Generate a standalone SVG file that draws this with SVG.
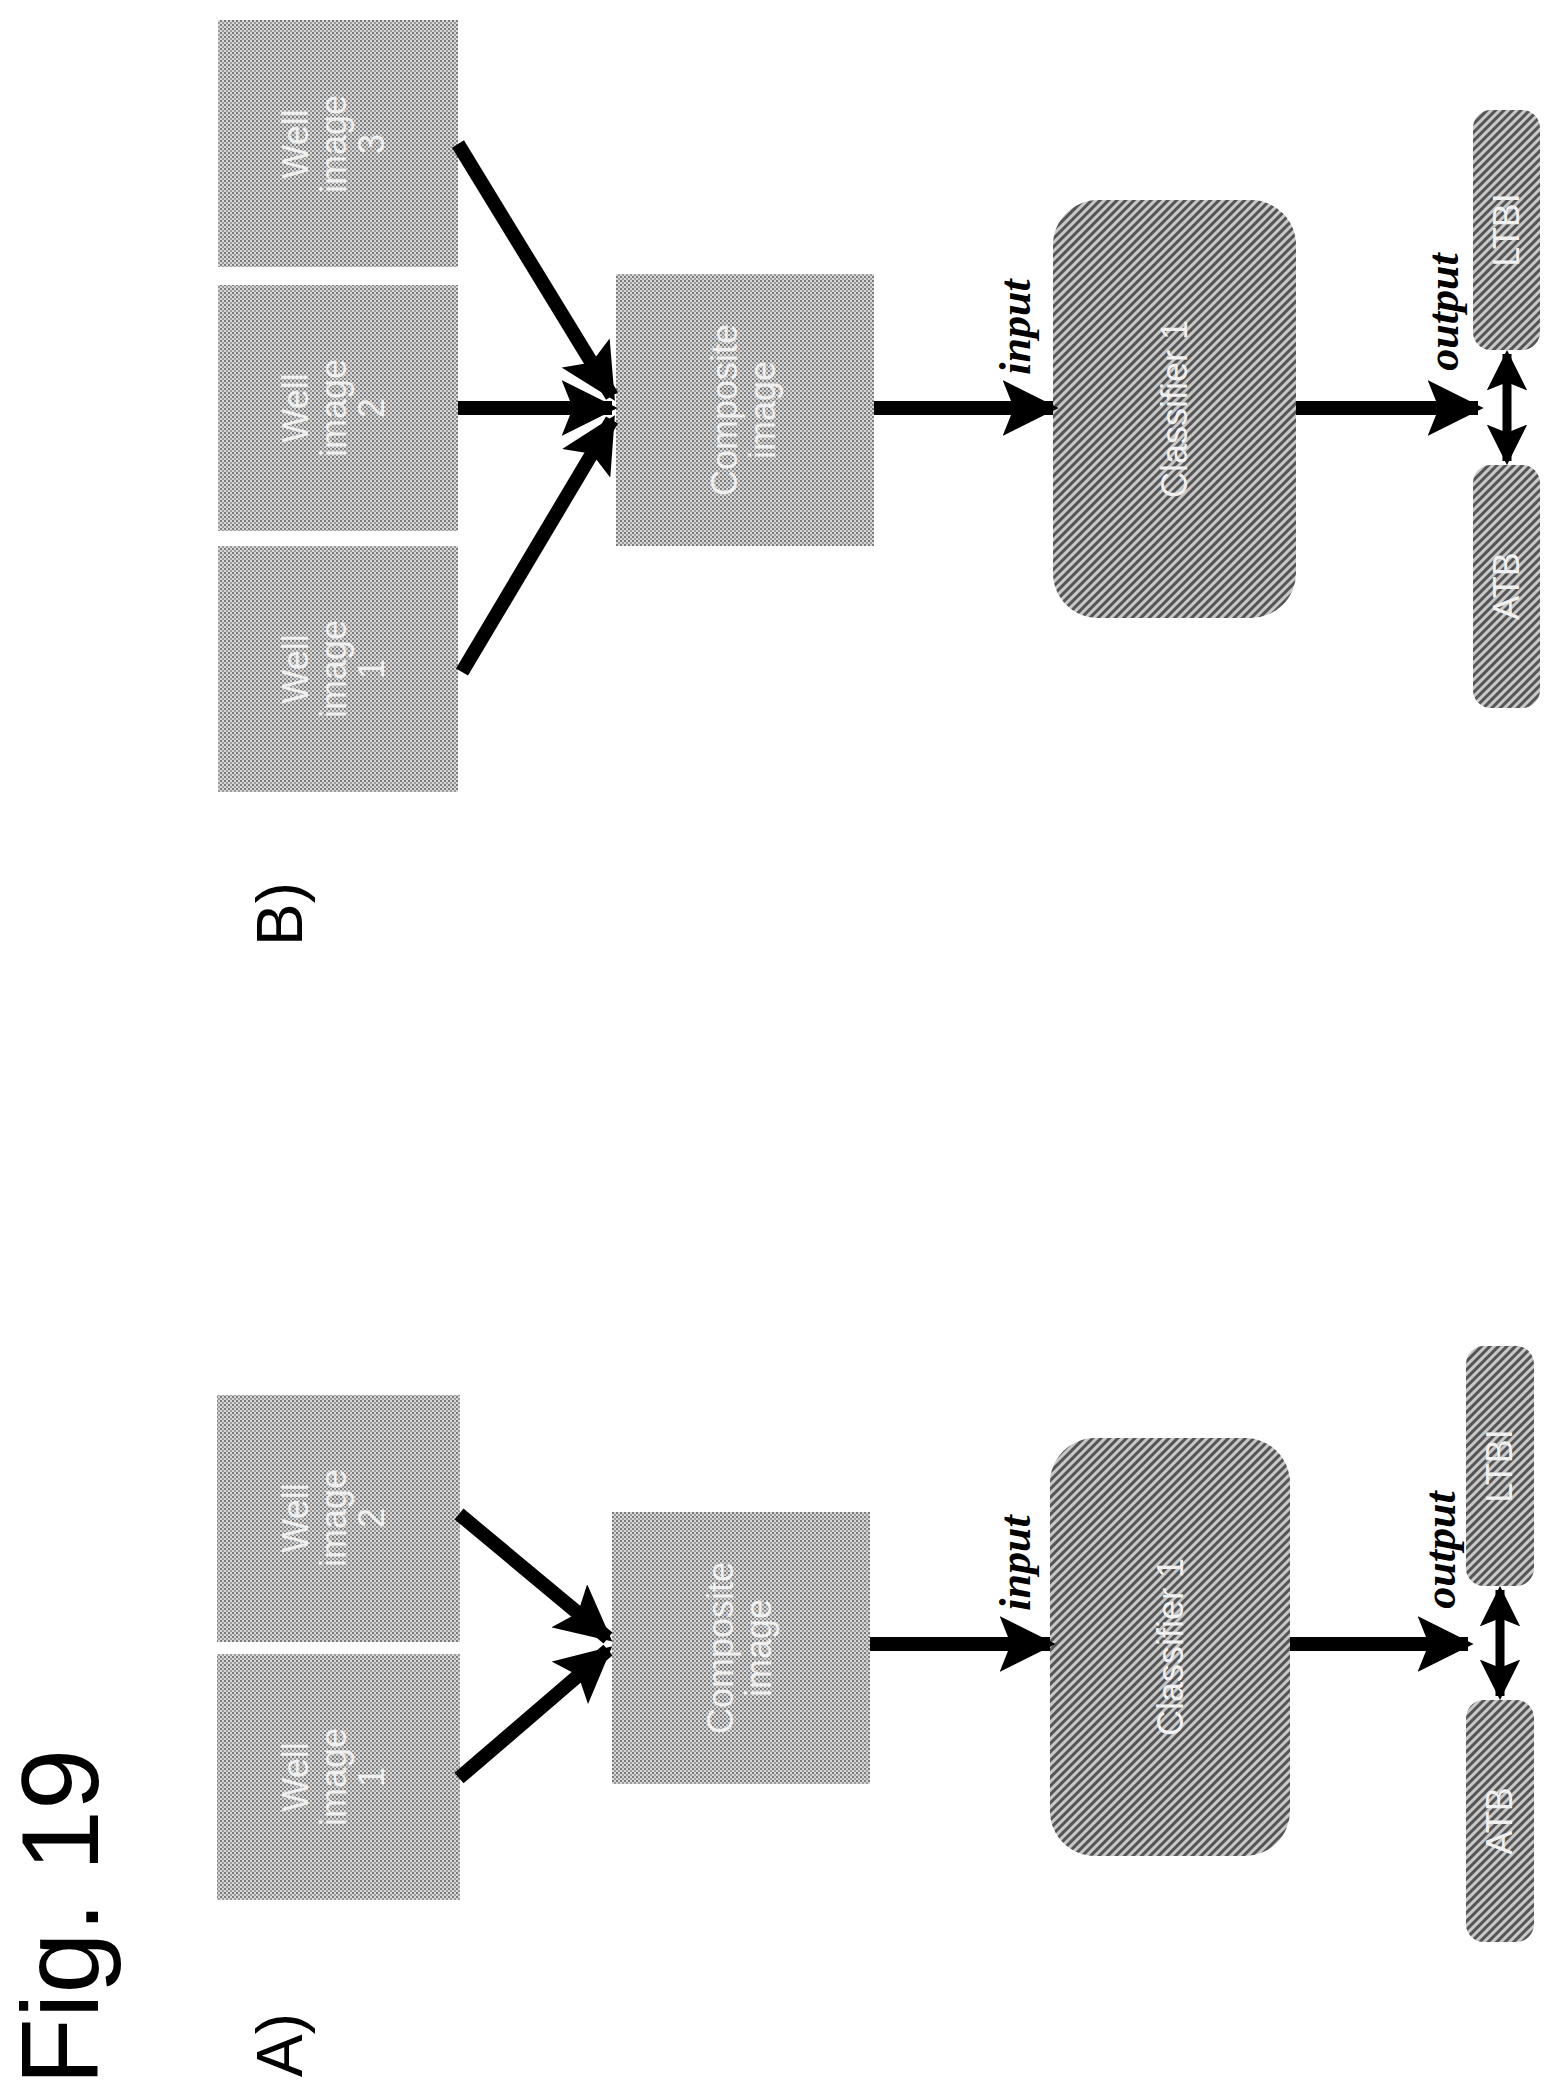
<svg xmlns="http://www.w3.org/2000/svg" width="1561" height="2096" viewBox="0 0 1561 2096">
<defs>
<pattern id="dots" width="4" height="4" patternUnits="userSpaceOnUse"><rect width="4" height="4" fill="#d8d8d8"/><rect width="2" height="2" fill="#7a7a7a"/><rect x="2" y="2" width="2" height="2" fill="#9a9a9a"/></pattern>
<pattern id="hatch" width="6" height="6" patternUnits="userSpaceOnUse" patternTransform="rotate(45)"><rect width="6" height="6" fill="#c8c8c8"/><rect width="3" height="6" fill="#555"/></pattern>
<marker id="ah" viewBox="0 0 10 10" refX="9" refY="5" markerWidth="4" markerHeight="4" orient="auto" markerUnits="strokeWidth"><path d="M0,0 L10,5 L0,10 L2,5 z" fill="#000"/></marker>
<marker id="ah2" viewBox="0 0 10 10" refX="9" refY="5" markerWidth="4.5" markerHeight="4.5" orient="auto-start-reverse" markerUnits="strokeWidth"><path d="M0,0 L10,5 L0,10 L2,5 z" fill="#000"/></marker>
</defs>
<style>
.box{fill:url(#dots)}
.hat{fill:url(#hatch)}
.lbl{font-family:"Liberation Sans",Arial,sans-serif;font-size:36px;fill:#f0f0f0;text-anchor:middle}
.it{font-family:"Liberation Serif",serif;font-style:italic;font-weight:bold;font-size:44px;fill:#000;text-anchor:middle}
.big{font-family:"Liberation Sans",Arial,sans-serif;fill:#000;text-anchor:middle}
.c{stroke:#000;stroke-width:14;fill:none;marker-end:url(#ah)}
.d{stroke:#000;stroke-width:9;fill:none;marker-end:url(#ah2);marker-start:url(#ah2)}
</style>
<text class="big" font-size="110" transform="translate(98 1917) rotate(-90)">Fig. 19</text>
<text class="big" font-size="64" transform="translate(302 2045) rotate(-90)">A)</text>
<text class="big" font-size="64" transform="translate(302 914) rotate(-90)">B)</text>

<!-- Panel A -->
<g id="a-well1"><rect class="box" x="217" y="1654" width="243" height="246"/><text class="lbl" transform="translate(338 1777) rotate(-90)"><tspan x="0" dy="-30">Well</tspan><tspan x="0" dy="38">image</tspan><tspan x="0" dy="38">1</tspan></text></g>
<g id="a-well2"><rect class="box" x="217" y="1395" width="243" height="247"/><text class="lbl" transform="translate(338 1518) rotate(-90)"><tspan x="0" dy="-30">Well</tspan><tspan x="0" dy="38">image</tspan><tspan x="0" dy="38">2</tspan></text></g>
<g id="a-comp"><rect class="box" x="612" y="1512" width="258" height="272"/><text class="lbl" transform="translate(741 1648) rotate(-90)"><tspan x="0" dy="-8">Composite</tspan><tspan x="0" dy="38">image</tspan></text></g>
<g id="a-clf"><rect class="hat" x="1050" y="1438" width="240" height="418" rx="45"/><text class="lbl" transform="translate(1183 1647) rotate(-90)">Classifier 1</text></g>
<g id="a-atb"><rect class="hat" x="1466" y="1700" width="68" height="242" rx="18"/><text class="lbl" transform="translate(1512 1821) rotate(-90)">ATB</text></g>
<g id="a-ltbi"><rect class="hat" x="1466" y="1346" width="68" height="240" rx="18"/><text class="lbl" transform="translate(1512 1466) rotate(-90)">LTBI</text></g>
<text class="it" transform="translate(1030 1563) rotate(-90)">input</text>
<text class="it" transform="translate(1455 1550) rotate(-90)">output</text>

<!-- Panel B -->
<g id="b-well1"><rect class="box" x="218" y="546" width="240" height="246"/><text class="lbl" transform="translate(338 669) rotate(-90)"><tspan x="0" dy="-30">Well</tspan><tspan x="0" dy="38">image</tspan><tspan x="0" dy="38">1</tspan></text></g>
<g id="b-well2"><rect class="box" x="218" y="285" width="240" height="246"/><text class="lbl" transform="translate(338 408) rotate(-90)"><tspan x="0" dy="-30">Well</tspan><tspan x="0" dy="38">image</tspan><tspan x="0" dy="38">2</tspan></text></g>
<g id="b-well3"><rect class="box" x="218" y="20" width="240" height="247"/><text class="lbl" transform="translate(338 144) rotate(-90)"><tspan x="0" dy="-30">Well</tspan><tspan x="0" dy="38">image</tspan><tspan x="0" dy="38">3</tspan></text></g>
<g id="b-comp"><rect class="box" x="616" y="274" width="258" height="272"/><text class="lbl" transform="translate(745 410) rotate(-90)"><tspan x="0" dy="-8">Composite</tspan><tspan x="0" dy="38">image</tspan></text></g>
<g id="b-clf"><rect class="hat" x="1053" y="200" width="243" height="418" rx="45"/><text class="lbl" transform="translate(1187 409) rotate(-90)">Classifier 1</text></g>
<g id="b-atb"><rect class="hat" x="1473" y="465" width="67" height="243" rx="18"/><text class="lbl" transform="translate(1519 586) rotate(-90)">ATB</text></g>
<g id="b-ltbi"><rect class="hat" x="1473" y="110" width="67" height="240" rx="18"/><text class="lbl" transform="translate(1519 230) rotate(-90)">LTBI</text></g>
<text class="it" transform="translate(1030 327) rotate(-90)">input</text>
<text class="it" transform="translate(1458 312) rotate(-90)">output</text>

<g id="connectors">
<line class="c" x1="459" y1="1778" x2="608" y2="1650"/>
<line class="c" x1="459" y1="1514" x2="608" y2="1638"/>
<line class="c" x1="870" y1="1644" x2="1050" y2="1644"/>
<line class="c" x1="1290" y1="1644" x2="1468" y2="1644"/>
<line class="d" x1="1500" y1="1590" x2="1500" y2="1696"/>
<line class="c" x1="462" y1="672" x2="612" y2="420"/>
<line class="c" x1="458" y1="408" x2="612" y2="408"/>
<line class="c" x1="458" y1="144" x2="612" y2="396"/>
<line class="c" x1="874" y1="408" x2="1053" y2="408"/>
<line class="c" x1="1296" y1="408" x2="1478" y2="408"/>
<line class="d" x1="1507" y1="354" x2="1507" y2="461"/>
</g>
</svg>
